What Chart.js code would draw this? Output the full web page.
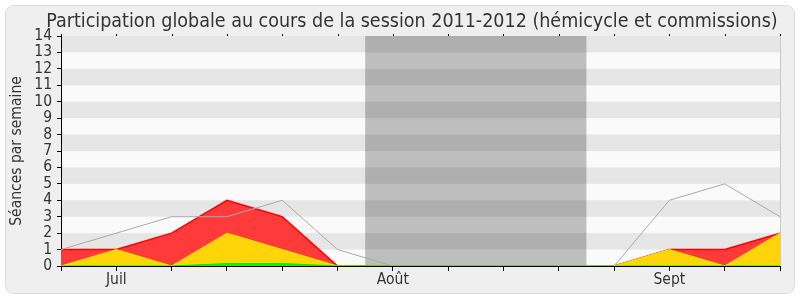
<!DOCTYPE html>
<html>
<head>
<meta charset="utf-8">
<script src="https://cdn.jsdelivr.net/npm/chart.js@4"></script>
<style>
  body { margin: 0; background: #fff; }
  canvas { display: block; }
</style>
</head>
<body>
<canvas id="chart" width="800" height="300"></canvas>
<script>
const chartTitle = 'Participation globale au cours de la session 2011-2012 (hémicycle et commissions)';
const weeks = [0, 1, 2, 3, 4, 5, 6, 7, 8, 9, 10, 11, 12, 13];
const tickLabels = ['', 'Juil', '', '', '', '', 'Août', '', '', '', '', 'Sept', '', ''];
const totalSeances = [1, 2, 3, 3, 4, 1, 0, 0, 0, 0, 0, 4, 5, 3];
const presences = [1, 1, 2, 4, 3, 0, 0, 0, 0, 0, 0, 1, 1, 2];
const participations = [0, 1, 0, 2, 1, 0, 0, 0, 0, 0, 0, 1, 0, 2];
const interventions = [0, 0, 0, 0.15, 0.15, 0, 0, 0, 0, 0, 0, 0, 0, 0];
const vacances = [5.5, 9.5];

const FONT = "'DejaVu Sans Condensed', 'DejaVu Sans'";
Chart.defaults.font.family = FONT;
Chart.defaults.color = '#333';

function toPoints(values) {
    return values.map((v, i) => ({ x: weeks[i], y: v }));
}

const background = {
    id: 'background',
    beforeDraw(chart) {
        const ctx = chart.ctx;
        const area = chart.chartArea;
        const y = chart.scales.y;
        const x = chart.scales.x;
        ctx.save();
        // cadre arrondi
        ctx.fillStyle = '#efefef';
        ctx.strokeStyle = '#dcdcdc';
        ctx.lineWidth = 1;
        ctx.beginPath();
        ctx.roundRect(5.5, 5.5, 789, 288, 8);
        ctx.fill();
        ctx.stroke();
        // bandes horizontales
        ctx.fillStyle = '#fafafa';
        ctx.fillRect(area.left, area.top, area.right - area.left, area.bottom - area.top);
        ctx.fillStyle = '#e6e6e6';
        for (let v = 1; v < 14; v += 2) {
            const top = y.getPixelForValue(v + 1);
            const bottom = y.getPixelForValue(v);
            ctx.fillRect(area.left, top, area.right - area.left, bottom - top);
        }
        // vacances parlementaires
        ctx.fillStyle = 'rgba(0,0,0,0.24)';
        const x0 = x.getPixelForValue(vacances[0]);
        const x1 = x.getPixelForValue(vacances[1]);
        ctx.fillRect(x0, area.top, x1 - x0, area.bottom - area.top);
        ctx.restore();
    },
    afterDraw(chart) {
        const ctx = chart.ctx;
        const area = chart.chartArea;
        const x = chart.scales.x;
        ctx.save();
        ctx.strokeStyle = '#c8c8c8';
        ctx.beginPath();
        ctx.moveTo(area.right + 0.5, area.top);
        ctx.lineTo(area.right + 0.5, area.bottom);
        ctx.stroke();
        ctx.fillStyle = '#000';
        weeks.forEach(w => {
            const px = Math.round(x.getPixelForValue(w));
            ctx.fillRect(px, area.top - 2, 1, 2);
        });
        ctx.fillStyle = '#333';
        ctx.font = '19.5px ' + FONT;
        ctx.textAlign = 'center';
        ctx.textBaseline = 'alphabetic';
        ctx.fillText(chartTitle, 412, 27);
        ctx.restore();
    }
};

new Chart(document.getElementById('chart'), {
    type: 'line',
    data: {
        datasets: [
            {
                data: toPoints(totalSeances),
                borderColor: '#aaaaaa',
                borderWidth: 1,
                fill: false
            },
            {
                data: toPoints(interventions),
                borderColor: '#00ee00',
                backgroundColor: '#11ee11',
                borderWidth: 1,
                fill: 'origin'
            },
            {
                data: toPoints(participations),
                borderColor: '#ffe600',
                backgroundColor: '#ffd50a',
                borderWidth: 1,
                fill: 'origin'
            },
            {
                data: toPoints(presences),
                borderColor: '#ff0000',
                backgroundColor: '#ff3a3a',
                borderWidth: 1.5,
                fill: 'origin'
            }
        ]
    },
    options: {
        responsive: false,
        animation: false,
        devicePixelRatio: 1,
        layout: { padding: { top: 36, right: 20, bottom: 0, left: 0 } },
        elements: { point: { radius: 0 }, line: { tension: 0 } },
        plugins: {
            legend: { display: false },
            tooltip: { enabled: false },
            title: { display: false }
        },
        scales: {
            x: {
                type: 'linear',
                min: 0,
                max: 13,
                afterFit: (scale) => { scale.height = 34; },
                border: { color: '#000' },
                grid: { drawOnChartArea: false, tickLength: 5, color: '#000' },
                ticks: {
                    stepSize: 1,
                    autoSkip: false,
                    maxRotation: 0,
                    padding: 0,
                    font: { size: 15.5 },
                    callback: (v) => tickLabels[v] ?? ''
                }
            },
            y: {
                min: 0,
                max: 14,
                afterFit: (scale) => { scale.width = 61; },
                border: { color: '#000' },
                grid: { drawOnChartArea: false, tickLength: 4, color: '#000' },
                ticks: { stepSize: 1, autoSkip: false, padding: 5, font: { size: 15.5 } },
                title: {
                    display: true,
                    text: 'Séances par semaine',
                    font: { size: 15.5 },
                    padding: { top: 8, bottom: 0 }
                }
            }
        }
    },
    plugins: [background]
});
</script>
</body>
</html>
